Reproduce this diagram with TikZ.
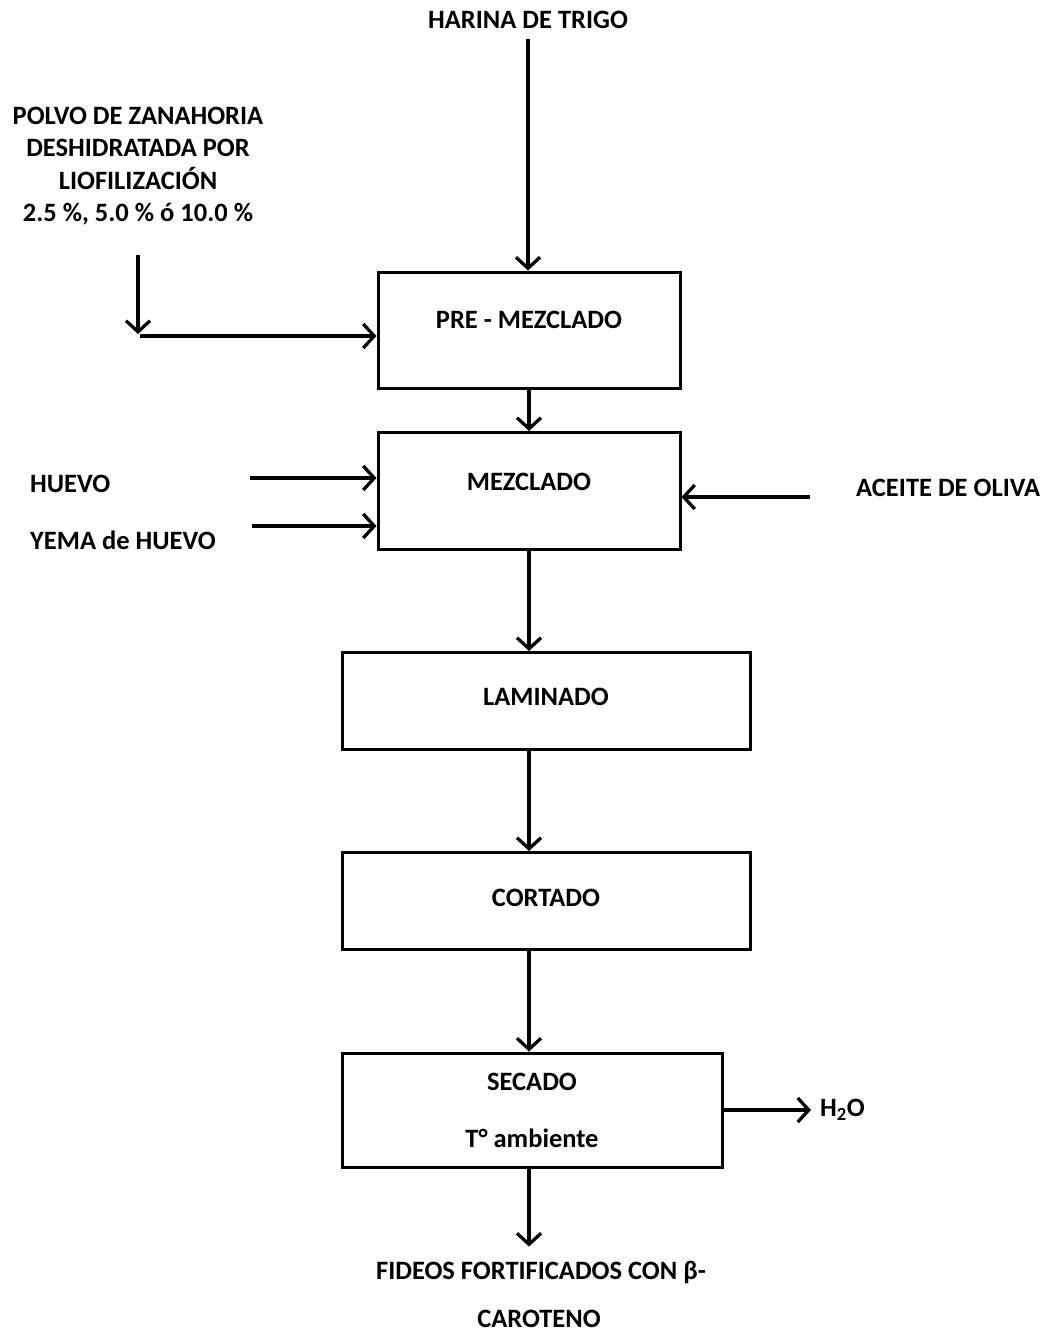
\documentclass[tikz,border=0pt]{standalone}
\usepackage{fontspec}
\setmainfont{Carlito}
\usetikzlibrary{arrows.meta, positioning, calc}

\begin{document}
\begin{tikzpicture}[x=1pt, y=-1pt,
    proc/.style={draw, line width=3pt, inner sep=0pt, font=\bfseries\fontsize{26.5}{30}\selectfont, align=center},
    lbl/.style={inner sep=0pt, font=\bfseries\fontsize{26.5}{32.5}\selectfont, align=center},
    flow/.style={line width=3.3pt, -{Straight Barb[length=11pt, width=24pt]}}]
    \useasboundingbox (0,0) rectangle (1056,1332);

    % --- INPUTS ---
    \node[lbl] (harina) at (528,20) {HARINA DE TRIGO};
    \node[lbl] (zan) at (138,166) {POLVO DE ZANAHORIA\\DESHIDRATADA POR\\LIOFILIZACIÓN\\2.5 \%, 5.0 \% ó 10.0 \%};
    \node[lbl, anchor=west] (huevo) at (30,484) {HUEVO};
    \node[lbl, anchor=west] (yema) at (30,540) {YEMA de HUEVO};
    \node[lbl, anchor=west] (aceite) at (856,488) {ACEITE DE OLIVA};

    % --- PROCESS STEPS ---
    \node[proc, minimum width=302, minimum height=116, text depth=20pt] (pre) at (529,330) {PRE - MEZCLADO};
    \node[proc, minimum width=302, minimum height=117, text depth=18pt] (mez) at (529,491) {MEZCLADO};
    \node[proc, minimum width=408, minimum height=97, text depth=8pt] (lam) at (546,701) {LAMINADO};
    \node[proc, minimum width=408, minimum height=97, text depth=6pt] (cor) at (546,901) {CORTADO};
    \node[proc, minimum width=380, minimum height=114] (sec) at (532,1110) {SECADO\\[27pt]T° ambiente};

    % --- OUTPUTS ---
    \node[lbl, anchor=west] (agua) at (820,1110) {H\textsubscript{2}O};
    \node[lbl] (fideos) at (541,1272) {FIDEOS FORTIFICADOS CON β-};
    \node[lbl] (carot) at (539,1319) {CAROTENO};

    % Main line
    \draw[flow, shorten <=10pt] (harina.south) -- (harina.south |- pre.north);
    \draw[flow] (pre.south) -- (mez.north);
    \draw[flow] (mez.south) -- (mez.south |- lam.north);
    \draw[flow] (lam.south -| mez.south) -- (cor.north -| mez.south);
    \draw[flow] (cor.south -| mez.south) -- (sec.north -| mez.south);
    \draw[flow, shorten >=14pt] (sec.south -| mez.south) -- (fideos.north -| mez.south);

    % Side streams
    \coordinate (zv) at (138,255);
    \coordinate (zh) at (140,336);
    \draw[flow] (zv) -- (138,334);
    \draw[flow] (zh) -- (zh -| pre.west);
    \coordinate (hvin) at (250,478);
    \draw[flow] (hvin) -- (hvin -| mez.west);
    \coordinate (ymin) at (252,526);
    \draw[flow] (ymin) -- (ymin -| mez.west);
    \coordinate (acin) at (810,497);
    \draw[flow] (acin) -- (acin -| mez.east);
    \draw[flow, shorten >=9pt] (sec.east) -- (agua.west);
\end{tikzpicture}
\end{document}
